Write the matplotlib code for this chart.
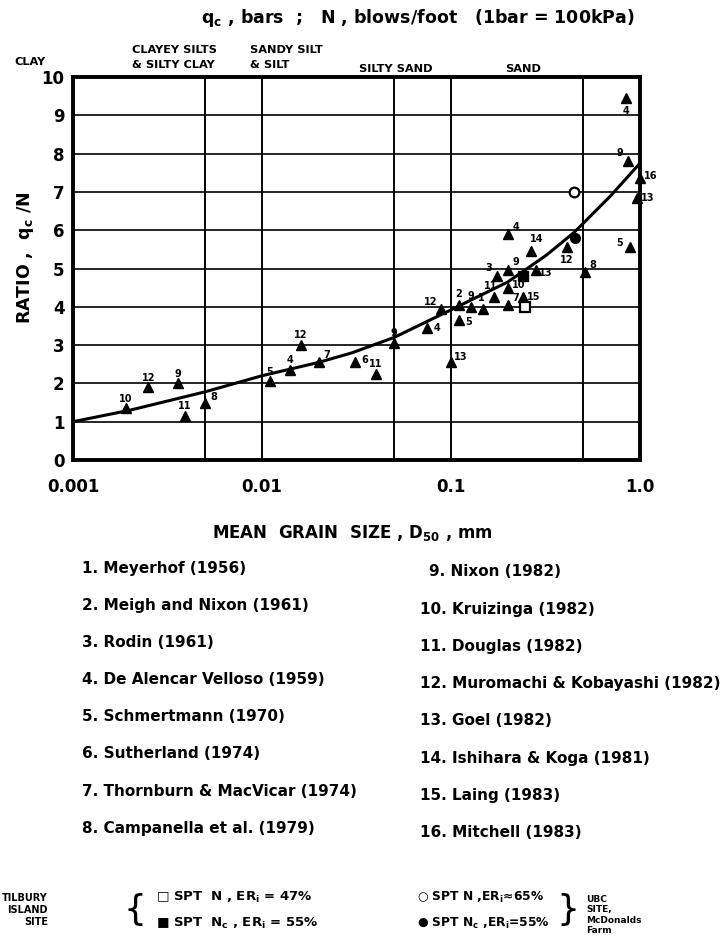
import matplotlib
matplotlib.use("Agg")
import matplotlib.pyplot as plt

plt.rcParams['font.family'] = ['DejaVu Sans']
plt.rcParams['font.weight'] = 'bold'
plt.rcParams['mathtext.fontset'] = 'custom'
plt.rcParams['mathtext.rm'] = 'DejaVu Sans:bold'
plt.rcParams['mathtext.it'] = 'DejaVu Sans:bold'
plt.rcParams['mathtext.bf'] = 'DejaVu Sans:bold'
plt.rcParams['mathtext.default'] = 'rm'

# data ---------------------------------------------------------------------
# triangles: D50 (mm), ratio qc/N, reference number
tri_x = [0.0019, 0.0025, 0.0036, 0.0039, 0.005, 0.011, 0.014, 0.016, 0.02, 0.031,
         0.04, 0.05, 0.075, 0.088, 0.1, 0.11, 0.11, 0.127, 0.147, 0.168,
         0.175, 0.2, 0.2, 0.2, 0.24, 0.2, 0.265, 0.28, 0.41, 0.51,
         0.88, 0.96, 1.0, 0.865, 0.84]
tri_y = [1.35, 1.9, 2.0, 1.15, 1.5, 2.05, 2.35, 3.0, 2.55, 2.55,
         2.25, 3.05, 3.45, 3.95, 2.55, 4.05, 3.65, 4.0, 3.95, 4.25,
         4.8, 4.95, 4.05, 4.5, 4.25, 5.9, 5.45, 4.95, 5.55, 4.9,
         5.55, 6.85, 7.35, 7.8, 9.45]
tri_ref = ['10', '12', '9', '11', '8', '5', '4', '12', '7', '6',
           '11', '9', '4', '12', '13', '2', '5', '9', '1', '11',
           '3', '9', '7', '10', '15', '4', '14', '13', '12', '8',
           '5', '13', '16', '9', '4']

# Tilbury Island site (squares) and UBC McDonalds Farm (circles)
sq_open = (0.245, 4.0)
sq_fill = (0.24, 4.8)
ci_open = (0.45, 7.0)
ci_fill = (0.455, 5.8)

# average trend curve
curve_x = [0.001, 0.002, 0.005, 0.01, 0.02, 0.03, 0.05, 0.1, 0.2, 0.32, 0.45, 0.7, 1.0]
curve_y = [1.0, 1.3, 1.78, 2.2, 2.55, 2.8, 3.2, 3.92, 4.65, 5.35, 5.95, 6.9, 7.75]

grid_x = [0.005, 0.01, 0.05, 0.1, 0.5]
x_ticks = [0.001, 0.01, 0.1, 1.0]
x_ticklabels = ['0.001', '0.01', '0.1', '1.0']
y_ticks = list(range(0, 11))

refs_left = ['1. Meyerhof (1956)', '2. Meigh and Nixon (1961)', '3. Rodin (1961)',
             '4. De Alencar Velloso (1959)', '5. Schmertmann (1970)',
             '6. Sutherland (1974)', '7. Thornburn & MacVicar (1974)',
             '8. Campanella et al. (1979)']
refs_right = ['9. Nixon (1982)', '10. Kruizinga (1982)', '11. Douglas (1982)',
              '12. Muromachi & Kobayashi (1982)', '13. Goel (1982)',
              '14. Ishihara & Koga (1981)', '15. Laing (1983)', '16. Mitchell (1983)']

# label offsets (points) for the reference numbers
lab_off = [(0, 7), (0, 7), (0, 7), (0, 7), (6, 4), (0, 7), (0, 7), (0, 7), (6, 5), (7, 2),
           (0, 7), (0, 7), (7, 0), (-7, 5), (7, 4), (0, 8), (7, -1), (0, 8), (-1, 8), (-2, 8),
           (-6, 6), (6, 6), (6, 5), (8, 2), (8, 0), (6, 5), (4, 9), (7, -2), (0, -9), (6, 5),
           (-7, 3), (8, 0), (8, 2), (-6, 6), (0, -9)]

# figure -------------------------------------------------------------------
W, H = 726, 936
fig = plt.figure(figsize=(W / 100, H / 100), dpi=100)


def fx(x):
    return x / W


def fy(y):
    return 1 - y / H


ax = fig.add_axes([fx(73), fy(460), fx(640 - 73), (460 - 77) / H])
ax.set_xscale('log')
ax.set_xlim(0.001, 1.0)
ax.set_ylim(0, 10)

for g in grid_x:
    ax.axvline(g, color='black', lw=1.4, zorder=1)
for g in y_ticks[1:-1]:
    ax.axhline(g, color='black', lw=1.2, zorder=1)

ax.plot(curve_x, curve_y, color='black', lw=2.2, zorder=2)

ax.plot(tri_x, tri_y, '^', color='black', ms=7, zorder=3, clip_on=False)
for x, y, r, (dx, dy) in zip(tri_x, tri_y, tri_ref, lab_off):
    ax.annotate(r, (x, y), xytext=(dx, dy), textcoords='offset points',
                ha='center', va='center', fontsize=7, fontweight='bold')

ax.plot(*sq_open, 's', mfc='white', mec='black', mew=1.6, ms=6.5, zorder=4)
ax.plot(*sq_fill, 's', color='black', ms=6.5, zorder=4)
ax.plot(*ci_open, 'o', mfc='white', mec='black', mew=1.6, ms=7, zorder=4)
ax.plot(*ci_fill, 'o', color='black', ms=7, zorder=4)

for s in ax.spines.values():
    s.set_linewidth(2.8)
ax.set_xticks(x_ticks)
ax.set_xticklabels(x_ticklabels)
ax.minorticks_off()
ax.set_yticks(y_ticks)
ax.tick_params(length=0, labelsize=12, pad=6)
ax.tick_params(axis='x', pad=13)

# header texts
fig.text(fx(418), fy(18), r'q$_\mathregular{c}$ , bars  ;   N , blows/foot   (1bar = 100kPa)',
         ha='center', va='center', fontsize=12.5)
small = 8.2
fig.text(fx(14), fy(62), 'CLAY', ha='left', va='center', fontsize=small)
fig.text(fx(132), fy(50), 'CLAYEY SILTS', ha='left', va='center', fontsize=small)
fig.text(fx(132), fy(65), '& SILTY CLAY', ha='left', va='center', fontsize=small)
fig.text(fx(250), fy(50), 'SANDY SILT', ha='left', va='center', fontsize=small)
fig.text(fx(250), fy(65), '& SILT', ha='left', va='center', fontsize=small)
fig.text(fx(359), fy(69), 'SILTY SAND', ha='left', va='center', fontsize=small)
fig.text(fx(505), fy(69), 'SAND', ha='left', va='center', fontsize=small)

fig.text(fx(25), fy(258), r'RATIO ,  q$_\mathregular{c}$ /N', rotation=90,
         ha='center', va='center', fontsize=12.5)
fig.text(fx(352), fy(533), r'MEAN  GRAIN  SIZE , D$_{\mathregular{50}}$ , mm',
         ha='center', va='center', fontsize=12)

# reference list
for i, s in enumerate(refs_left):
    fig.text(fx(82), fy(568 + 37.2 * i), s, ha='left', va='center', fontsize=11)
for i, s in enumerate(refs_right):
    x0 = 429 if s.split('.')[0] == '9' else 420
    fig.text(fx(x0), fy(572 + 37.2 * i), s, ha='left', va='center', fontsize=11)

# site legend
r1, r2 = 897, 923
fig.text(fx(48), fy(910), 'TILBURY\nISLAND\nSITE', ha='right', va='center',
         fontsize=7, linespacing=1.2)
fig.text(fx(135), fy(910), '{', ha='center', va='center', fontsize=26,
         fontweight='normal')
fig.text(fx(156), fy(r1), r'□ SPT  N , ER$_\mathregular{i}$ = 47%', ha='left', va='center', fontsize=9.5)
fig.text(fx(156), fy(r2), r'■ SPT  N$_\mathregular{c}$ , ER$_\mathregular{i}$ = 55%', ha='left', va='center', fontsize=9.5)
fig.text(fx(417), fy(r1), r'○ SPT N ,ER$_\mathregular{i}$≈65%', ha='left', va='center', fontsize=8.8)
fig.text(fx(417), fy(r2), r'● SPT N$_\mathregular{c}$ ,ER$_\mathregular{i}$=55%', ha='left', va='center', fontsize=8.8)
fig.text(fx(568), fy(910), '}', ha='center', va='center', fontsize=26,
         fontweight='normal')
fig.text(fx(586), fy(915), 'UBC\nSITE,\nMcDonalds\nFarm', ha='left', va='center',
         fontsize=6.5, linespacing=1.15)

fig.savefig('out.png', dpi=100)
